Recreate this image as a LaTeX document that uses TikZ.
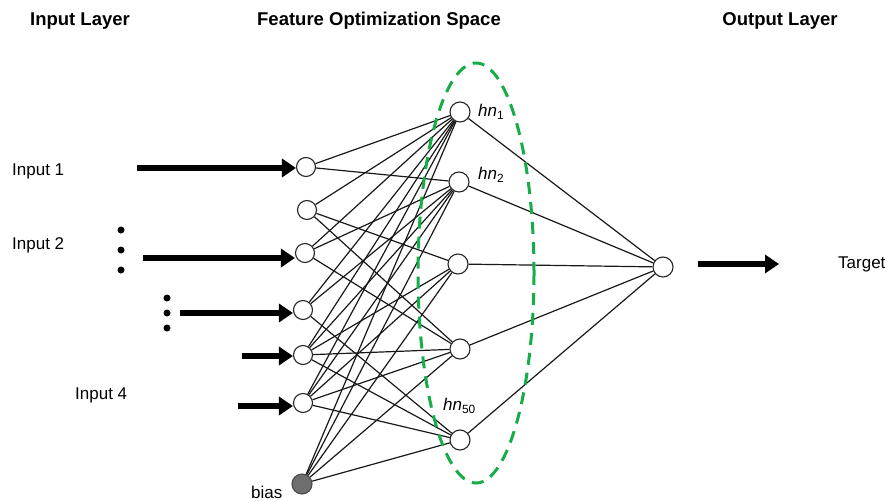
\documentclass[tikz,border=0pt]{standalone}
\usepackage{fontspec}
\setmainfont{Liberation Sans}
\usetikzlibrary{arrows.meta}
\definecolor{ellgreen}{RGB}{22,172,72}
\definecolor{biasgray}{RGB}{110,110,110}
\begin{document}
\begin{tikzpicture}[x=1pt,y=-1pt,
  neuron/.style={circle,draw=black!85,line width=1.1pt,fill=white,minimum size=19pt,inner sep=0pt},
  hneuron/.style={neuron,minimum size=20pt},
  biasnode/.style={circle,draw=black!70,line width=1.1pt,fill=biasgray,minimum size=20pt,inner sep=0pt},
  conn/.style={line width=1.2pt,black!90},
  bigarrow/.style={line width=6pt,-{Triangle[length=14pt,width=18pt]}},
  title/.style={font=\bfseries\fontsize{18.5}{22}\selectfont,inner sep=0pt},
  lbl/.style={font=\fontsize{17}{20}\selectfont,inner sep=0pt},
  hlbl/.style={font=\fontsize{17}{20}\selectfont,inner sep=0pt,anchor=west},
  dotmark/.style={circle,fill=black,minimum size=7pt,inner sep=0pt}]
\useasboundingbox (0,0) rectangle (890,500);

% titles
\node[title] (t1) at (80,21) {Input Layer};
\node[title] (t2) at (379,21) {Feature Optimization Space};
\node[title] (t3) at (780,21) {Output Layer};

% input neurons
\node[neuron] (i1) at (306,167) {};
\node[neuron] (i2) at (307,210) {};
\node[neuron] (i3) at (305,253) {};
\node[neuron] (i4) at (303,310) {};
\node[neuron] (i5) at (303,355) {};
\node[neuron] (i6) at (303,403) {};
\node[biasnode] (b) at (302,484) {};

% hidden neurons
\node[hneuron] (h1) at (460,112) {};
\node[hneuron] (h2) at (459,182) {};
\node[hneuron] (h3) at (458,264) {};
\node[hneuron] (h4) at (460,349) {};
\node[hneuron] (h5) at (460,440) {};

% output neuron
\node[hneuron] (o) at (663,267) {};

% connections input -> hidden
\foreach \a/\b in {i1/h1,i1/h2,i2/h1,i2/h3,i2/h4,i3/h1,i3/h2,i3/h4,
                   i4/h1,i4/h2,i4/h5,i5/h1,i5/h2,i5/h3,i5/h4,i5/h5,
                   i6/h1,i6/h2,i6/h3,i6/h4,i6/h5,b/h1,b/h2,b/h3,b/h4,b/h5}
  \draw[conn] (\a) -- (\b);
% hidden -> output
\foreach \a in {h1,h2,h3,h4,h5}
  \draw[conn] (\a) -- (o);

% feature space ellipse
\draw[ellgreen,line width=3pt,dash pattern=on 12pt off 8pt] (476,273) ellipse [x radius=58, y radius=210];

% input arrows
\coordinate (a1) at (137,168);
\coordinate (a2) at (143,258);
\coordinate (a3) at (180,313);
\coordinate (a4) at (242,356);
\coordinate (a5) at (238,406);
\draw[bigarrow] (a1) -- (i1.west |- a1);
\draw[bigarrow] (a2) -- (i3.west |- a2);
\draw[bigarrow] (a3) -- (i4.west |- a3);
\draw[bigarrow] (a4) -- (i5.west |- a4);
\draw[bigarrow] (a5) -- (i6.west |- a5);

% output arrow
\coordinate (oa1) at (698,264);
\coordinate (oa2) at (779,264);
\draw[bigarrow] (oa1) -- (oa2);

% ellipsis dots
\node[dotmark] (d1) at (121,230) {};
\node[dotmark] (d2) at (121,250) {};
\node[dotmark] (d3) at (121,270) {};
\node[dotmark] (d4) at (167,298) {};
\node[dotmark] (d5) at (167,313) {};
\node[dotmark] (d6) at (167,328) {};

% labels
\node[lbl,anchor=west] (l1) at (12,171) {Input 1};
\node[lbl,anchor=west] (l2) at (12,245) {Input 2};
\node[lbl,anchor=west] (l4) at (75,395) {Input 4};
\node[lbl,anchor=west] (lt) at (838,264) {Target};
\node[lbl,anchor=west] (lb) at (251,492) {bias};

\node[hlbl] (hl1) at (478,112) {\itshape hn\/\textsubscript{\upshape 1}};
\node[hlbl] (hl2) at (478,175) {\itshape hn\/\textsubscript{\upshape 2}};
\node[hlbl] (hl5) at (443,406) {\itshape hn\/\textsubscript{\upshape 50}};
\end{tikzpicture}
\end{document}
